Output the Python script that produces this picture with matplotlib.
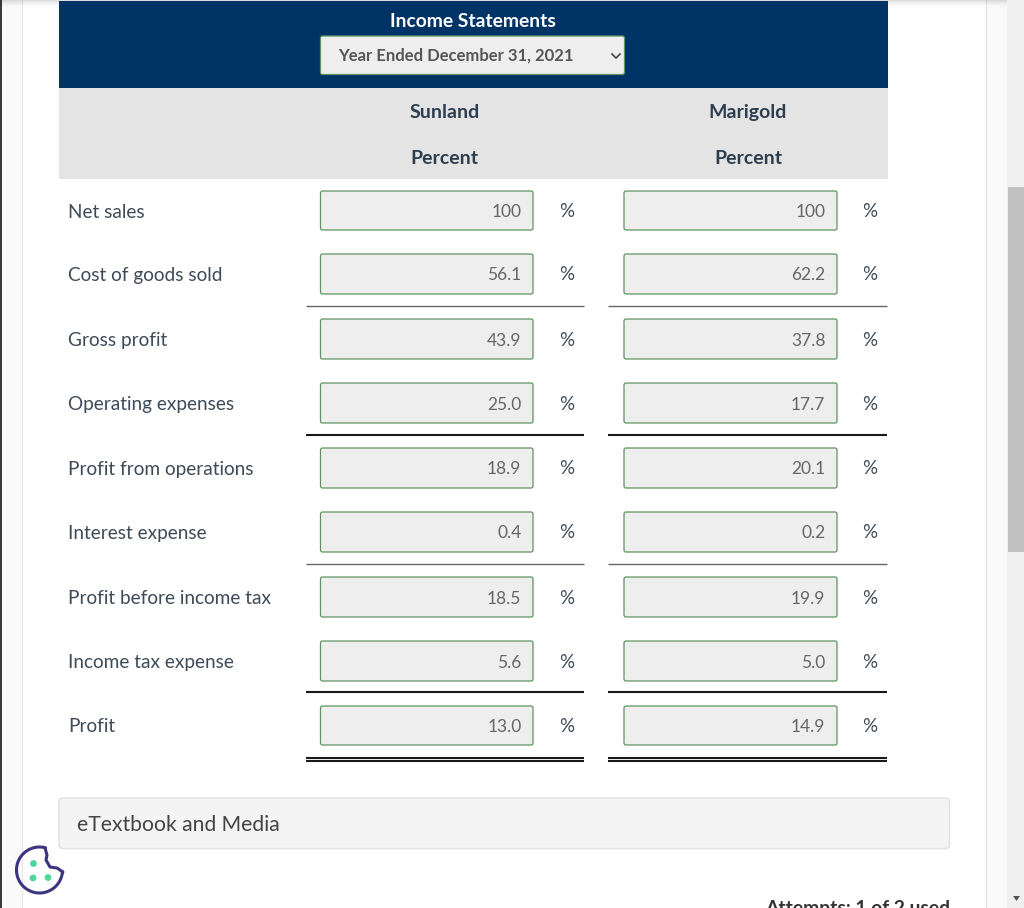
import numpy as np
import matplotlib
matplotlib.use('Agg')
import matplotlib.pyplot as plt
from matplotlib.patches import Rectangle, FancyBboxPatch, Circle, Polygon

plt.rcParams['font.family'] = ['Lato', 'DejaVu Sans']

row_labels = ['Net sales', 'Cost of goods sold', 'Gross profit', 'Operating expenses',
              'Profit from operations', 'Interest expense', 'Profit before income tax',
              'Income tax expense', 'Profit']
sunland = ['100', '56.1', '43.9', '25.0', '18.9', '0.4', '18.5', '5.6', '13.0']
marigold = ['100', '62.2', '37.8', '17.7', '20.1', '0.2', '19.9', '5.0', '14.9']
companies = ['Sunland', 'Marigold']
title = 'Income Statements'
period = 'Year Ended December 31, 2021'

# layout in pixels
row_top = [191, 254, 319, 383, 448, 512, 577, 641, 706]
row_bot = [230, 294, 359, 423, 488, 552, 617, 681, 745]
rules = [(306, 1.0, '#666666'), (435, 1.5, '#1a1a1a'), (564, 1.0, '#666666'), (692, 1.5, '#1a1a1a'),
         (758, 1.5, '#1a1a1a'), (761, 1.5, '#1a1a1a')]

fig = plt.figure(figsize=(10.24, 9.08), dpi=100)
ax = fig.add_axes([0, 0, 1, 1])
ax.set_xlim(0, 1024)
ax.set_ylim(908, 0)
ax.axis('off')


def rect(x0, y0, x1, y1, color, z=1, alpha=None):
    ax.add_patch(Rectangle((x0, y0), x1 - x0, y1 - y0, fc=color, ec='none', zorder=z, alpha=alpha))


def rbox(x0, y0, x1, y1, fc, ec, lw=1.0, r=2, z=3):
    ax.add_patch(FancyBboxPatch((x0 + r, y0 + r), x1 - x0 - 2 * r, y1 - y0 - 2 * r,
                                boxstyle='round,pad={},rounding_size={}'.format(r, r),
                                fc=fc, ec=ec, lw=lw, zorder=z))


# page background and frame
rect(0, 0, 1024, 908, 'white', 0)
rect(0, 0, 2, 908, '#3a3a3a')
rect(2, 0, 22, 908, '#fafafa')
rect(21.5, 0, 22.5, 908, '#e4e4e4')
rect(986, 0, 1007, 908, '#fafafa')
rect(986, 0, 987, 908, '#e4e4e4')
rect(1007, 0, 1024, 908, '#f0f0f0')
rect(1008, 187, 1024, 552, '#c1c1c1')
ax.add_patch(Polygon([[1013, 896], [1020, 896], [1016.5, 901]], fc='#555555', ec='none', zorder=2))

# soft shadow along the top
for k in range(8):
    rect(2, k, 1007, k + 1, '#000000', 2, alpha=0.13 * (1 - k / 8) ** 2)

# header bands
rect(58.5, 1, 887.5, 87.5, '#003366', 3)
rect(58.5, 87.5, 887.5, 179, '#e4e4e4')
ax.text(473, 27, title, color='white', fontsize=13.9, fontweight='bold', ha='center', va='baseline', zorder=4)
rbox(320.5, 36, 624.5, 74.5, '#eeeeee', '#5f9460', 0.9, z=4)
ax.text(338, 61, period, color='#555555', fontsize=12.0, fontweight='bold', ha='left', va='baseline', zorder=5)
ax.plot([612, 616, 620], [54, 58, 54], color='#444444', lw=1.2, zorder=5)

col_centers = [444.5, 748]
for cx, name in zip(col_centers, companies):
    ax.text(cx, 118, name, color='#2d3e50', fontsize=14, fontweight='bold', ha='center', va='baseline')
    ax.text(cx, 164, 'Percent', color='#2d3e50', fontsize=14, fontweight='bold', ha='center', va='baseline')

# rows
for i, label in enumerate(row_labels):
    ym = (row_top[i] + row_bot[i]) / 2
    ax.text(68, ym + 7, label, color='#3d4a57', fontsize=13.7, ha='left', va='baseline')
    for x0, x1, vals, px in [(320.5, 533, sunland, 567), (624, 837, marigold, 870)]:
        rbox(x0, row_top[i], x1, row_bot[i], '#eeeeee', '#5f9460', 0.9)
        ax.text(x1 - 11.5, ym + 6.5, vals[i], color='#666666', fontsize=12.5, ha='right', va='baseline', zorder=4)
        ax.text(px, ym + 6.5, '%', color='#3d4a57', fontsize=13.5, ha='center', va='baseline')

for y, lw, col in rules:
    ax.plot([306, 584], [y, y], color=col, lw=lw, solid_capstyle='butt', zorder=2)
    ax.plot([608, 887], [y, y], color=col, lw=lw, solid_capstyle='butt', zorder=2)

# media panel
rbox(59, 798, 949.5, 848.5, '#f4f4f4', '#e0e0e0', 1.0, r=4)
ax.text(77, 831, 'eTextbook and Media', color='#444444', fontsize=15.2, ha='left', va='baseline', zorder=4)

# attempts line, cut by the bottom edge as in the screenshot
ax.text(950, 914, 'Attempts: 1 of 2 used', color='#333333', fontsize=13.9, fontweight='bold',
        ha='right', va='baseline', zorder=4, clip_on=True)

# cookie button
t = np.radians(np.arange(5, 286, 4))
cx, cy, r = 39.5, 870, 23
xs = list(cx + r * np.cos(t))
ys = list(cy + r * np.sin(t))
bx = [45, 47, 46, 50, 57, 63, xs[0]]
by = [848, 855, 860, 867, 868, 872, ys[0]]
ax.plot(xs + bx, ys + by, color='#3b3580', lw=2.2, zorder=6, solid_capstyle='round')
for dx, dy in [(33.5, 863.5), (33, 878), (48, 877.5)]:
    ax.add_patch(Circle((dx, dy), 3.4, fc='#4fd69c', ec='none', zorder=6))

fig.savefig('out.png', dpi=100)
